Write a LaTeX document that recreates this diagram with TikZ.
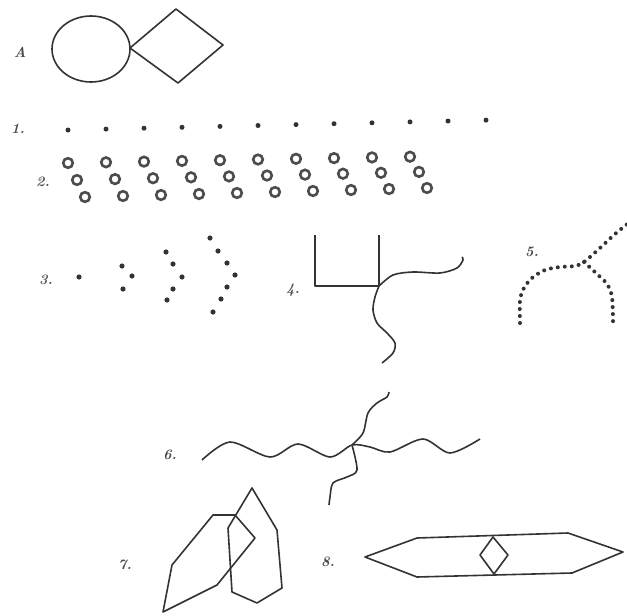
\documentclass[tikz,border=0pt]{standalone}
\usetikzlibrary{positioning}
\begin{document}
\begin{tikzpicture}[
    x=1pt, y=-1pt,
    tag/.style={font=\bfseries\itshape\Large, text=black!70},
    outline/.style={draw=black!80, line width=1.6pt, line join=round},
    dot/.style={fill=black!80},
    ring/.style={draw=black!70, line width=2.6pt},
    beads/.style={draw=black!80, line width=4pt, line cap=round, dash pattern=on 0pt off 7pt}
]
\useasboundingbox (0,0) rectangle (627,616);

% FIGURE A: circle touching a diamond
\node[tag] (tagA) at (20,52) {A};
\draw[outline] (91,49) ellipse [x radius=39pt, y radius=33pt];
\draw[outline] (130,48) -- (176,9) -- (223,45) -- (178,83) -- cycle;

% FIGURE 1: row of dots
\node[tag] (tag1) at (18,129) {1.};
\foreach \i in {0,...,11}
    \fill[dot] ({68+38*\i},{130-0.9*\i}) circle (2.5pt);

% FIGURE 2: three rows of rings
\node[tag] (tag2) at (43,182) {2.};
\foreach \i in {0,...,9} {
    \draw[ring] ({68+38*\i},{163-0.7*\i}) circle (4.8pt);
    \draw[ring] ({77+38*\i},{180-0.9*\i}) circle (4.8pt);
    \draw[ring] ({85+38*\i},{197-1.0*\i}) circle (4.8pt);
}

% FIGURE 3: growing arcs of dots
\node[tag] (tag3) at (46,280) {3.};
\foreach \p in {(79,277), (122,266),(132,276),(123,289),
                (166,252),(173,264),(182,277),(173,289),(167,300),
                (210,238),(218,251),(227,263),(235,275),(227,287),(221,299),(213,312)}
    \fill[dot] \p circle (2.6pt);

% FIGURE 4: U with two wavy tails
\node[tag] (tag4) at (293,290) {4.};
\draw[outline] (315,235) -- (315,286) -- (379,286) -- (379,235);
\draw[outline] plot[smooth] coordinates {(379,286) (393,275) (413,272) (440,273) (457,268) (463,260) (462,257)};
\draw[outline] plot[smooth] coordinates {(379,286) (375,297) (373,310) (377,323) (387,333) (395,343) (393,353) (382,363)};

% FIGURE 5: beaded branching chain
\node[tag] (tag5) at (532,252) {5.};
\draw[beads] plot[smooth] coordinates {(520,323) (520,300) (524,288) (532,278) (545,270) (560,267) (575,266) (584,262) (600,248) (615,234) (630,222)};
\draw[beads] plot[smooth] coordinates {(584,262) (597,274) (607,284) (612,297) (613,322)};

% FIGURE 6: wavy cross
\node[tag] (tag6) at (170,455) {6.};
\draw[outline] plot[smooth] coordinates {(202,460) (230,442) (270,457) (298,444) (330,457) (352,445) (370,447) (390,452) (423,439) (450,453) (480,439)};
\draw[outline] plot[smooth] coordinates {(352,445) (363,433) (368,413) (377,403) (387,397) (389,392)};
\draw[outline] plot[smooth] coordinates {(352,445) (357,470) (347,477) (333,483) (330,497) (329,505)};

% FIGURE 7: two overlapping polygons
\node[tag] (tag7) at (125,565) {7.};
\draw[outline] (163,612) -- (172,565) -- (213,515) -- (235,515) -- (255,538) -- (217,585) -- cycle;
\draw[outline] (252,488) -- (277,530) -- (282,588) -- (257,603) -- (232,592) -- (228,528) -- cycle;

% FIGURE 8: long hexagon with small diamond
\node[tag] (tag8) at (328,562) {8.};
\draw[outline] (365,557) -- (417,538) -- (568,533) -- (623,552) -- (572,573) -- (417,577) -- cycle;
\draw[outline] (493,537) -- (508,555) -- (494,574) -- (480,555) -- cycle;

\end{tikzpicture}
\end{document}
